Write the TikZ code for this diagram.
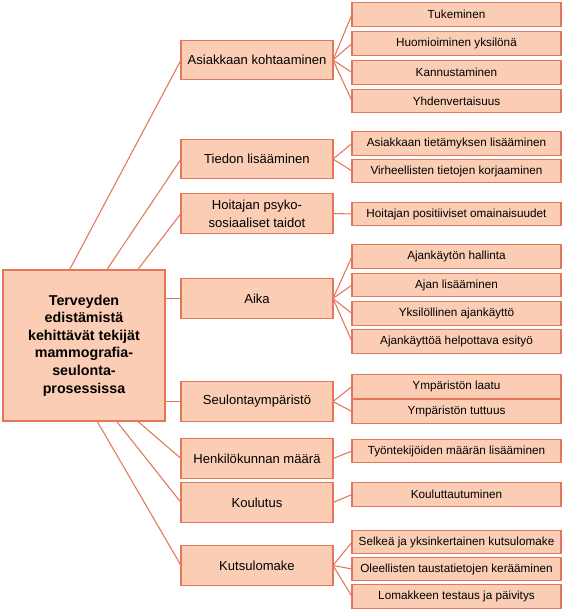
\documentclass[tikz,border=0pt]{standalone}
\usepackage{fontspec}
\setmainfont{Liberation Sans}
\usetikzlibrary{calc}
\definecolor{boxfill}{HTML}{FBCDB4}
\definecolor{boxline}{HTML}{E2775C}
\begin{document}
\begin{tikzpicture}[x=0.75pt,y=-0.75pt,
  base/.style={draw=boxline,fill=boxfill,line width=0.9pt,inner sep=0pt,outer sep=0pt,align=center},
  centralbox/.style={base,minimum width=121.5pt,minimum height=113.25pt,font=\fontsize{10.7}{13.2}\selectfont\bfseries},
  midbox/.style={base,minimum width=114pt,minimum height=29.5pt,font=\fontsize{9.8}{13.3}\selectfont},
  leafbox/.style={base,minimum width=156.75pt,minimum height=17.6pt,font=\fontsize{8.8}{10}\selectfont},
  link/.style={draw=boxline,line width=0.8pt}]
\useasboundingbox (0,0) rectangle (566,611);
% central
\node[centralbox] (c) at (84,345.5) {Terveyden\\edistämistä\\kehittävät tekijät\\mammografia-\\seulonta-\\prosessissa};
% middle level
\node[midbox] (m1) at (257,60) {Asiakkaan kohtaaminen};
\node[midbox] (m2) at (257,159) {Tiedon lisääminen};
\node[midbox] (m3) at (257,213.5) {Hoitajan psyko-\\sosiaaliset taidot};
\node[midbox] (m4) at (257,298.5) {Aika};
\node[midbox] (m5) at (257,401.5) {Seulontaympäristö};
\node[midbox] (m6) at (257,458.5) {Henkilökunnan määrä};
\node[midbox] (m7) at (257,502.5) {Koulutus};
\node[midbox] (m8) at (257,565.5) {Kutsulomake};
% leaves
\node[leafbox] (l1) at (456.5,14.5) {Tukeminen};
\node[leafbox] (l2) at (456.5,43.5) {Huomioiminen yksilönä};
\node[leafbox] (l3) at (456.5,72.5) {Kannustaminen};
\node[leafbox] (l4) at (456.5,101) {Yhdenvertaisuus};
\node[leafbox] (l5) at (456.5,143.5) {Asiakkaan tietämyksen lisääminen};
\node[leafbox] (l6) at (456.5,171) {Virheellisten tietojen korjaaminen};
\node[leafbox] (l7) at (456.5,214) {Hoitajan positiiviset omainaisuudet};
\node[leafbox] (l8) at (456.5,256.5) {Ajankäytön hallinta};
\node[leafbox] (l9) at (456.5,285) {Ajan lisääminen};
\node[leafbox] (l10) at (456.5,313.5) {Yksilöllinen ajankäyttö};
\node[leafbox] (l11) at (456.5,341.5) {Ajankäyttöä helpottava esityö};
\node[leafbox] (l12) at (456.5,386.5) {Ympäristön laatu};
\node[leafbox] (l13) at (456.5,411.5) {Ympäristön tuttuus};
\node[leafbox] (l14) at (456.5,451) {Työntekijöiden määrän lisääminen};
\node[leafbox] (l15) at (456.5,494.5) {Kouluttautuminen};
\node[leafbox] (l16) at (456.5,542) {Selkeä ja yksinkertainen kutsulomake};
\node[leafbox] (l17) at (456.5,569) {Oleellisten taustatietojen kerääminen};
\node[leafbox] (l18) at (456.5,596.5) {Lomakkeen testaus ja päivitys};
% central to middle
\begin{scope}[on background layer/.style={}]
\draw[link] ($(c.north west)!0.41!(c.north east)$) -- (m1.west);
\draw[link] ($(c.north west)!0.64!(c.north east)$) -- (m2.west);
\draw[link] ($(c.north west)!0.83!(c.north east)$) -- (m3.west);
\draw[link] (c.east |- m4.west) -- (m4.west);
\draw[link] (c.east |- m5.west) -- (m5.west);
\draw[link] ($(c.south west)!0.83!(c.south east)$) -- (m6.west);
\draw[link] ($(c.south west)!0.70!(c.south east)$) -- (m7.west);
\draw[link] ($(c.south west)!0.58!(c.south east)$) -- (m8.west);
\end{scope}
% middle to leaves
\foreach \m/\l in {m1/l1,m1/l2,m1/l3,m1/l4,m2/l5,m2/l6,m3/l7,m4/l8,m4/l9,m4/l10,m4/l11,m5/l12,m5/l13,m6/l14,m7/l15,m8/l16,m8/l17,m8/l18}
  \draw[link] (\m.east) -- (\l.west);
\end{tikzpicture}
\end{document}
